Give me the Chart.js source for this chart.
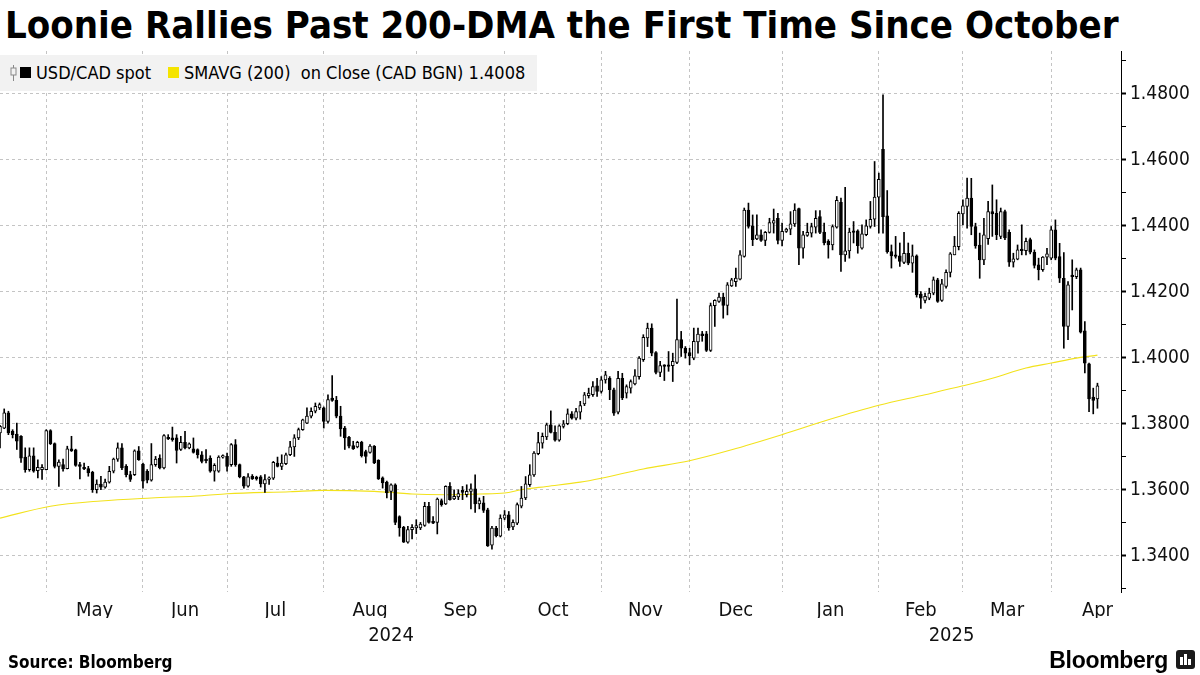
<!DOCTYPE html>
<html>
<head>
<meta charset="utf-8">
<title>Loonie Rallies Past 200-DMA</title>
<script src="https://cdn.jsdelivr.net/npm/chart.js@4.4.1/dist/chart.umd.min.js"></script>
<style>
  html, body { margin: 0; padding: 0; background: #fff; }
  body { position: relative; width: 1200px; height: 675px; overflow: hidden;
         font-family: "DejaVu Sans Condensed", "DejaVu Sans", sans-serif; font-stretch: condensed; color: #000; }
  #title { position: absolute; left: 5px; top: 2px; font-size: 38px; font-weight: bold; line-height: 46px; white-space: nowrap; }
  #chartBox { position: absolute; left: 0; top: 0; width: 1200px; height: 660px; }
  #legend { position: absolute; left: 0; top: 55px; width: 537px; height: 36px; background: #f2f2f2; font-size: 18px; white-space: nowrap; }
  #legend span { position: absolute; top: 0; line-height: 36px; }
  #legend .sw { position: absolute; top: 12px; width: 11px; height: 11px; }
  #source { position: absolute; left: 8px; top: 650px; font-size: 17px; font-weight: bold; line-height: 24px; }
  #logo { position: absolute; right: 32px; top: 646px; font-family: "Liberation Sans", Arial, sans-serif; font-stretch: normal;
          font-weight: bold; font-size: 23px; line-height: 28px; letter-spacing: -0.3px; }
  #logoIcon { position: absolute; left: 1176px; top: 650px; width: 19px; height: 19px; background: #1a1a1a; border-radius: 3px; }
  #logoIcon i { position: absolute; bottom: 4px; width: 3px; background: #fff; }
</style>
</head>
<body>
<div id="title">Loonie Rallies Past 200-DMA the First Time Since October</div>
<div id="chartBox"><canvas id="chart" width="1200" height="660"></canvas></div>
<div id="legend">
  <svg style="position:absolute;left:10px;top:10px" width="7" height="16" viewBox="0 0 7 16">
    <line x1="3.5" y1="0" x2="3.5" y2="16" stroke="#888" stroke-width="1"/>
    <rect x="1" y="3" width="5" height="7" fill="#f2f2f2" stroke="#888" stroke-width="1"/>
  </svg>
  <div class="sw" style="left:20px;background:#000"></div>
  <span style="left:36px">USD/CAD spot</span>
  <div class="sw" style="left:168px;background:#f5e400"></div>
  <span style="left:184px">SMAVG (200)&nbsp; on Close (CAD BGN) 1.4008</span>
</div>
<div id="source">Source: Bloomberg</div>
<div id="logo">Bloomberg</div>
<div id="logoIcon"><i style="left:4px;height:8px"></i><i style="left:8px;height:11px"></i><i style="left:12px;height:6px"></i></div>

<script>
// x axis: one slot per weekday, index 0 = 16 Apr 2024
const monthLabels = ['May', 'Jun', 'Jul', 'Aug', 'Sep', 'Oct', 'Nov', 'Dec', 'Jan', 'Feb', 'Mar', 'Apr'];
const monthStarts = [11, 34, 54, 77, 99, 120, 143, 164, 186, 209, 229, 250];
const nextMonthStart = 272;
const yearLabels = ['2024', '2025'];
const yearStarts = [0, 186];
const yTicks = [1.34, 1.36, 1.38, 1.40, 1.42, 1.44, 1.46, 1.48];

// USD/CAD daily candles
const open = [
  1.3772, 1.3787, 1.3833, 1.3777, 1.3769, 1.3762, 1.3699, 1.3661, 1.3703, 1.3658,
  1.3661, 1.3661, 1.3779, 1.3740, 1.3671, 1.3676, 1.3664, 1.3724, 1.3721, 1.3676,
  1.3668, 1.3664, 1.3653, 1.3600, 1.3617, 1.3608, 1.3623, 1.3656, 1.3693, 1.3727,
  1.3671, 1.3646, 1.3646, 1.3718, 1.3678, 1.3656, 1.3629, 1.3676, 1.3696, 1.3666,
  1.3757, 1.3757, 1.3757, 1.3722, 1.3744, 1.3727, 1.3724, 1.3722, 1.3706, 1.3693,
  1.3696, 1.3656, 1.3656, 1.3699, 1.3701, 1.3676, 1.3737, 1.3676, 1.3639, 1.3611,
  1.3641, 1.3638, 1.3639, 1.3618, 1.3631, 1.3635, 1.3681, 1.3671, 1.3679, 1.3706,
  1.3730, 1.3757, 1.3782, 1.3802, 1.3823, 1.3838, 1.3848, 1.3848, 1.3807, 1.3878,
  1.3871, 1.3823, 1.3787, 1.3759, 1.3734, 1.3730, 1.3744, 1.3716, 1.3713, 1.3732,
  1.3689, 1.3636, 1.3623, 1.3595, 1.3615, 1.3519, 1.3486, 1.3441, 1.3479, 1.3484,
  1.3484, 1.3492, 1.3550, 1.3504, 1.3501, 1.3567, 1.3557, 1.3610, 1.3572, 1.3578,
  1.3598, 1.3585, 1.3595, 1.3603, 1.3557, 1.3560, 1.3539, 1.3432, 1.3484, 1.3459,
  1.3514, 1.3524, 1.3487, 1.3499, 1.3550, 1.3575, 1.3615, 1.3645, 1.3709, 1.3741,
  1.3760, 1.3797, 1.3774, 1.3750, 1.3792, 1.3800, 1.3830, 1.3817, 1.3835, 1.3860,
  1.3885, 1.3888, 1.3915, 1.3898, 1.3933, 1.3938, 1.3903, 1.3835, 1.3938, 1.3893,
  1.3908, 1.3921, 1.3943, 1.3994, 1.4060, 1.4090, 1.4016, 1.3956, 1.3976, 1.3979,
  1.3976, 1.3986, 1.4055, 1.4029, 1.4016, 1.3999, 1.4048, 1.4073, 1.4073, 1.4022,
  1.4158, 1.4171, 1.4184, 1.4159, 1.4218, 1.4231, 1.4238, 1.4307, 1.4448, 1.4400,
  1.4360, 1.4373, 1.4356, 1.4380, 1.4408, 1.4423, 1.4356, 1.4383, 1.4390, 1.4406,
  1.4452, 1.4332, 1.4371, 1.4378, 1.4396, 1.4428, 1.4381, 1.4353, 1.4342, 1.4396,
  1.4471, 1.4312, 1.4324, 1.4385, 1.4385, 1.4332, 1.4373, 1.4398, 1.4420, 1.4487,
  1.4632, 1.4430, 1.4322, 1.4312, 1.4309, 1.4289, 1.4317, 1.4287, 1.4309, 1.4193,
  1.4174, 1.4181, 1.4196, 1.4236, 1.4174, 1.4216, 1.4259, 1.4312, 1.4337, 1.4436,
  1.4459, 1.4484, 1.4398, 1.4342, 1.4297, 1.4361, 1.4443, 1.4438, 1.4368, 1.4443,
  1.4380, 1.4290, 1.4299, 1.4327, 1.4325, 1.4358, 1.4320, 1.4282, 1.4267, 1.4305,
  1.4302, 1.4388, 1.4307, 1.4241, 1.4095, 1.4250, 1.4246, 1.4267, 1.4082, 1.3982,
  1.3881, 1.3875
];
const high = [
  1.3795, 1.3845, 1.3838, 1.3782, 1.3802, 1.3764, 1.3727, 1.3727, 1.3727, 1.3691,
  1.3676, 1.3782, 1.3782, 1.3742, 1.3691, 1.3693, 1.3732, 1.3762, 1.3723, 1.3683,
  1.3681, 1.3671, 1.3656, 1.3630, 1.3641, 1.3632, 1.3671, 1.3696, 1.3742, 1.3740,
  1.3676, 1.3656, 1.3721, 1.3731, 1.3681, 1.3661, 1.3740, 1.3701, 1.3706, 1.3767,
  1.3767, 1.3790, 1.3767, 1.3762, 1.3777, 1.3742, 1.3757, 1.3724, 1.3716, 1.3722,
  1.3703, 1.3679, 1.3703, 1.3706, 1.3711, 1.3740, 1.3752, 1.3678, 1.3641, 1.3649,
  1.3646, 1.3641, 1.3643, 1.3646, 1.3639, 1.3686, 1.3699, 1.3706, 1.3711, 1.3747,
  1.3767, 1.3787, 1.3814, 1.3848, 1.3848, 1.3863, 1.3863, 1.3851, 1.3888, 1.3946,
  1.3883, 1.3853, 1.3792, 1.3762, 1.3747, 1.3747, 1.3747, 1.3720, 1.3737, 1.3734,
  1.3691, 1.3639, 1.3626, 1.3618, 1.3618, 1.3521, 1.3489, 1.3489, 1.3494, 1.3509,
  1.3501, 1.3562, 1.3562, 1.3519, 1.3575, 1.3572, 1.3612, 1.3622, 1.3600, 1.3600,
  1.3610, 1.3615, 1.3618, 1.3645, 1.3575, 1.3580, 1.3544, 1.3489, 1.3489, 1.3524,
  1.3537, 1.3534, 1.3509, 1.3560, 1.3610, 1.3640, 1.3676, 1.3716, 1.3774, 1.3772,
  1.3802, 1.3839, 1.3794, 1.3797, 1.3810, 1.3845, 1.3837, 1.3847, 1.3868, 1.3895,
  1.3908, 1.3928, 1.3938, 1.3943, 1.3959, 1.3943, 1.3908, 1.3959, 1.3953, 1.3918,
  1.3933, 1.3964, 1.4004, 1.4070, 1.4105, 1.4103, 1.4019, 1.3989, 1.3979, 1.4019,
  1.4014, 1.4178, 1.4080, 1.4034, 1.4029, 1.4090, 1.4090, 1.4080, 1.4080, 1.4166,
  1.4176, 1.4196, 1.4196, 1.4228, 1.4241, 1.4272, 1.4325, 1.4454, 1.4469, 1.4433,
  1.4433, 1.4388, 1.4383, 1.4423, 1.4451, 1.4438, 1.4408, 1.4393, 1.4443, 1.4467,
  1.4454, 1.4383, 1.4408, 1.4408, 1.4446, 1.4446, 1.4408, 1.4358, 1.4403, 1.4489,
  1.4484, 1.4517, 1.4393, 1.4413, 1.4388, 1.4403, 1.4418, 1.4474, 1.4595, 1.4560,
  1.4797, 1.4507, 1.4342, 1.4368, 1.4348, 1.4380, 1.4348, 1.4342, 1.4312, 1.4201,
  1.4196, 1.4211, 1.4245, 1.4241, 1.4238, 1.4267, 1.4319, 1.4368, 1.4443, 1.4479,
  1.4545, 1.4544, 1.4408, 1.4378, 1.4423, 1.4474, 1.4524, 1.4479, 1.4454, 1.4448,
  1.4388, 1.4317, 1.4342, 1.4403, 1.4363, 1.4363, 1.4327, 1.4302, 1.4307, 1.4332,
  1.4398, 1.4418, 1.4347, 1.4319, 1.4231, 1.4297, 1.4272, 1.4272, 1.4110, 1.3984,
  1.3908, 1.3923
];
const low = [
  1.3727, 1.3785, 1.3767, 1.3757, 1.3722, 1.3683, 1.3653, 1.3656, 1.3653, 1.3636,
  1.3631, 1.3660, 1.3737, 1.3666, 1.3610, 1.3656, 1.3663, 1.3716, 1.3671, 1.3633,
  1.3661, 1.3641, 1.3592, 1.3590, 1.3600, 1.3605, 1.3620, 1.3651, 1.3686, 1.3661,
  1.3639, 1.3625, 1.3643, 1.3689, 1.3605, 1.3621, 1.3626, 1.3671, 1.3663, 1.3663,
  1.3752, 1.3747, 1.3681, 1.3719, 1.3724, 1.3724, 1.3711, 1.3696, 1.3681, 1.3681,
  1.3653, 1.3626, 1.3653, 1.3696, 1.3656, 1.3671, 1.3671, 1.3636, 1.3605, 1.3608,
  1.3631, 1.3629, 1.3608, 1.3592, 1.3616, 1.3631, 1.3669, 1.3661, 1.3676, 1.3703,
  1.3701, 1.3752, 1.3780, 1.3800, 1.3818, 1.3833, 1.3843, 1.3787, 1.3802, 1.3868,
  1.3818, 1.3762, 1.3722, 1.3727, 1.3722, 1.3727, 1.3699, 1.3681, 1.3711, 1.3679,
  1.3631, 1.3605, 1.3575, 1.3570, 1.3494, 1.3459, 1.3440, 1.3438, 1.3451, 1.3467,
  1.3479, 1.3489, 1.3499, 1.3497, 1.3466, 1.3550, 1.3555, 1.3568, 1.3570, 1.3570,
  1.3570, 1.3578, 1.3542, 1.3531, 1.3542, 1.3531, 1.3428, 1.3420, 1.3457, 1.3457,
  1.3509, 1.3477, 1.3479, 1.3494, 1.3545, 1.3570, 1.3610, 1.3640, 1.3706, 1.3726,
  1.3752, 1.3772, 1.3747, 1.3747, 1.3787, 1.3797, 1.3814, 1.3812, 1.3814, 1.3855,
  1.3878, 1.3883, 1.3883, 1.3893, 1.3923, 1.3873, 1.3825, 1.3830, 1.3873, 1.3878,
  1.3893, 1.3918, 1.3935, 1.3989, 1.4034, 1.4006, 1.3951, 1.3943, 1.3931, 1.3959,
  1.3928, 1.3982, 1.4004, 1.3999, 1.3979, 1.3994, 1.4014, 1.4050, 1.4019, 1.4019,
  1.4095, 1.4168, 1.4120, 1.4130, 1.4216, 1.4216, 1.4236, 1.4305, 1.4393, 1.4340,
  1.4358, 1.4353, 1.4340, 1.4378, 1.4378, 1.4345, 1.4339, 1.4380, 1.4373, 1.4398,
  1.4282, 1.4302, 1.4368, 1.4366, 1.4378, 1.4376, 1.4342, 1.4302, 1.4327, 1.4393,
  1.4262, 1.4292, 1.4302, 1.4348, 1.4317, 1.4329, 1.4370, 1.4393, 1.4398, 1.4378,
  1.4378, 1.4317, 1.4272, 1.4302, 1.4277, 1.4285, 1.4282, 1.4259, 1.4184, 1.4150,
  1.4166, 1.4176, 1.4191, 1.4168, 1.4171, 1.4211, 1.4245, 1.4312, 1.4327, 1.4403,
  1.4393, 1.4373, 1.4332, 1.4241, 1.4282, 1.4344, 1.4368, 1.4358, 1.4361, 1.4358,
  1.4277, 1.4275, 1.4297, 1.4312, 1.4312, 1.4315, 1.4272, 1.4236, 1.4262, 1.4282,
  1.4297, 1.4297, 1.4228, 1.4029, 1.4055, 1.4145, 1.4240, 1.4075, 1.3954, 1.3837,
  1.3830, 1.3847
];
const close = [
  1.3792, 1.3833, 1.3772, 1.3767, 1.3747, 1.3696, 1.3661, 1.3703, 1.3656, 1.3668,
  1.3668, 1.3779, 1.3740, 1.3671, 1.3684, 1.3663, 1.3724, 1.3718, 1.3674, 1.3671,
  1.3663, 1.3651, 1.3600, 1.3617, 1.3608, 1.3623, 1.3656, 1.3693, 1.3727, 1.3666,
  1.3646, 1.3631, 1.3718, 1.3691, 1.3626, 1.3629, 1.3676, 1.3693, 1.3666, 1.3764,
  1.3754, 1.3752, 1.3719, 1.3744, 1.3727, 1.3739, 1.3713, 1.3706, 1.3686, 1.3688,
  1.3656, 1.3674, 1.3699, 1.3703, 1.3671, 1.3737, 1.3676, 1.3639, 1.3611, 1.3639,
  1.3633, 1.3633, 1.3618, 1.3631, 1.3636, 1.3683, 1.3671, 1.3681, 1.3706, 1.3730,
  1.3757, 1.3782, 1.3812, 1.3823, 1.3838, 1.3853, 1.3858, 1.3807, 1.3873, 1.3871,
  1.3823, 1.3784, 1.3757, 1.3732, 1.3724, 1.3744, 1.3703, 1.3701, 1.3732, 1.3681,
  1.3633, 1.3621, 1.3590, 1.3615, 1.3501, 1.3484, 1.3441, 1.3479, 1.3486, 1.3491,
  1.3496, 1.3550, 1.3501, 1.3499, 1.3572, 1.3555, 1.3610, 1.3570, 1.3580, 1.3588,
  1.3592, 1.3595, 1.3603, 1.3557, 1.3567, 1.3537, 1.3430, 1.3484, 1.3461, 1.3514,
  1.3524, 1.3484, 1.3501, 1.3555, 1.3575, 1.3618, 1.3645, 1.3711, 1.3743, 1.3762,
  1.3797, 1.3774, 1.3750, 1.3794, 1.3800, 1.3830, 1.3817, 1.3837, 1.3855, 1.3888,
  1.3893, 1.3913, 1.3898, 1.3933, 1.3948, 1.3903, 1.3832, 1.3938, 1.3878, 1.3913,
  1.3928, 1.3945, 1.3999, 1.4062, 1.4090, 1.4014, 1.3956, 1.3976, 1.3974, 1.3974,
  1.3989, 1.4055, 1.4029, 1.4014, 1.4006, 1.4050, 1.4072, 1.4067, 1.4022, 1.4158,
  1.4174, 1.4184, 1.4159, 1.4221, 1.4236, 1.4242, 1.4312, 1.4448, 1.4398, 1.4358,
  1.4373, 1.4356, 1.4380, 1.4410, 1.4416, 1.4356, 1.4383, 1.4390, 1.4406, 1.4448,
  1.4332, 1.4373, 1.4380, 1.4398, 1.4423, 1.4380, 1.4348, 1.4342, 1.4398, 1.4477,
  1.4312, 1.4324, 1.4381, 1.4380, 1.4340, 1.4376, 1.4400, 1.4420, 1.4487, 1.4541,
  1.4428, 1.4322, 1.4309, 1.4307, 1.4292, 1.4317, 1.4287, 1.4309, 1.4191, 1.4181,
  1.4186, 1.4196, 1.4236, 1.4171, 1.4224, 1.4259, 1.4315, 1.4339, 1.4438, 1.4461,
  1.4484, 1.4398, 1.4339, 1.4297, 1.4373, 1.4443, 1.4436, 1.4373, 1.4443, 1.4363,
  1.4290, 1.4300, 1.4327, 1.4325, 1.4353, 1.4320, 1.4280, 1.4267, 1.4305, 1.4315,
  1.4388, 1.4302, 1.4241, 1.4095, 1.4221, 1.4246, 1.4267, 1.4078, 1.3984, 1.3875,
  1.3871, 1.3915
];

// 200-day simple moving average, read at a set of days
const smaDay = [0, 12, 24, 36, 48, 54, 69, 77, 89, 93, 98, 106, 114, 120, 124, 130, 138, 143,
  153, 164, 174, 186, 197, 209, 220, 229, 236, 244, 250, 256, 261];
const smaValue = [1.3514, 1.3550, 1.3566, 1.3575, 1.3582, 1.3588, 1.3594, 1.3598, 1.3595, 1.3592,
  1.3587, 1.3585, 1.3587, 1.3590, 1.3600, 1.3610, 1.3623, 1.3635, 1.3663, 1.3688, 1.3721,
  1.3767, 1.3812, 1.3856, 1.3888, 1.3915, 1.3938, 1.3969, 1.3984, 1.3999, 1.4008];

const X_MIN = 0, X_MAX = 266.6;
const FONT = '"DejaVu Sans Condensed", "DejaVu Sans", sans-serif';
const GRID = '#c4c4c4';

Chart.defaults.font.family = FONT;

const wicks = open.map((_, i) => ({ x: i, y: [low[i], high[i]] }));
const bodies = open.map((_, i) => ({ x: i, y: [open[i], close[i]] }));
const sma = smaDay.map((d, k) => ({ x: d, y: smaValue[k] }));

const isMajor = v => yTicks.some(t => Math.abs(t - v) < 1e-6);

new Chart(document.getElementById('chart'), {
  data: {
    datasets: [
      {
        type: 'bar', label: 'body', data: bodies, order: 0,
        grouped: false, barThickness: 3, minBarLength: 1.5, borderSkipped: false, borderWidth: 1,
        borderColor: '#000',
        backgroundColor: ctx => close[ctx.dataIndex] >= open[ctx.dataIndex] ? '#fff' : '#000'
      },
      {
        type: 'bar', label: 'wick', data: wicks, order: 1,
        grouped: false, barThickness: 1, minBarLength: 1, borderWidth: 0,
        backgroundColor: '#000'
      },
      {
        type: 'line', label: 'SMAVG (200)', data: sma, order: 2,
        borderColor: '#f2e21c', borderWidth: 1.1, pointRadius: 0,
        cubicInterpolationMode: 'monotone'
      }
    ]
  },
  options: {
    responsive: false,
    animation: false,
    layout: { padding: { top: 51, bottom: 12, left: 0, right: 0 } },
    plugins: { legend: { display: false }, tooltip: { enabled: false } },
    scales: {
      x: {
        type: 'linear', position: 'bottom', weight: 0, min: X_MIN, max: X_MAX, bounds: 'data',
        offset: false,
        afterBuildTicks: s => { s.ticks = monthStarts.map(v => ({ value: v })); },
        ticks: { display: false },
        grid: { color: GRID, lineWidth: 1, drawTicks: false, offset: false },
        border: { display: false, dash: [3, 3] },
        afterFit: s => { s.height = 0; }
      },
      xm: {
        type: 'linear', position: 'bottom', weight: 1, min: X_MIN, max: X_MAX, bounds: 'data',
        offset: false,
        afterBuildTicks: s => {
          s.ticks = monthStarts.map((m, k) => ({ value: (m + (monthStarts[k + 1] ?? nextMonthStart)) / 2 }));
        },
        ticks: { autoSkip: false, maxRotation: 0, padding: 7, color: '#111', font: { size: 20 },
                 callback: (v, k) => monthLabels[k] },
        grid: { display: false, drawTicks: false },
        border: { display: false },
        afterFit: s => { s.height = 26; }
      },
      xy: {
        type: 'linear', position: 'bottom', weight: 2, min: X_MIN, max: X_MAX, bounds: 'data',
        offset: false,
        afterBuildTicks: s => {
          s.ticks = yearStarts.map((y0, k) => ({ value: (y0 + (yearStarts[k + 1] ?? X_MAX)) / 2 }));
        },
        ticks: { autoSkip: false, maxRotation: 0, padding: 6, color: '#111', font: { size: 20 },
                 callback: (v, k) => yearLabels[k] },
        grid: { display: false, drawTicks: false },
        border: { display: false },
        afterFit: s => { s.height = 30; }
      },
      y: {
        type: 'linear', position: 'right', min: 1.329, max: 1.493, bounds: 'data',
        afterBuildTicks: s => {
          const t = [];
          for (let k = 133; k <= 149; k++) t.push({ value: k / 100 });
          s.ticks = t;
        },
        ticks: { autoSkip: false, padding: 4, color: '#111', font: { size: 19 },
                 callback: v => isMajor(v) ? v.toFixed(4) : '' },
        grid: {
          color: c => isMajor(c.tick.value) ? GRID : 'rgba(0,0,0,0)',
          tickColor: '#000',
          tickWidth: c => isMajor(c.tick.value) ? 2 : 1,
          tickLength: 5
        },
        border: { display: true, color: '#000', width: 1, dash: [3, 3] },
        afterFit: s => { s.width = 79; }
      }
    }
  }
});
</script>
</body>
</html>
